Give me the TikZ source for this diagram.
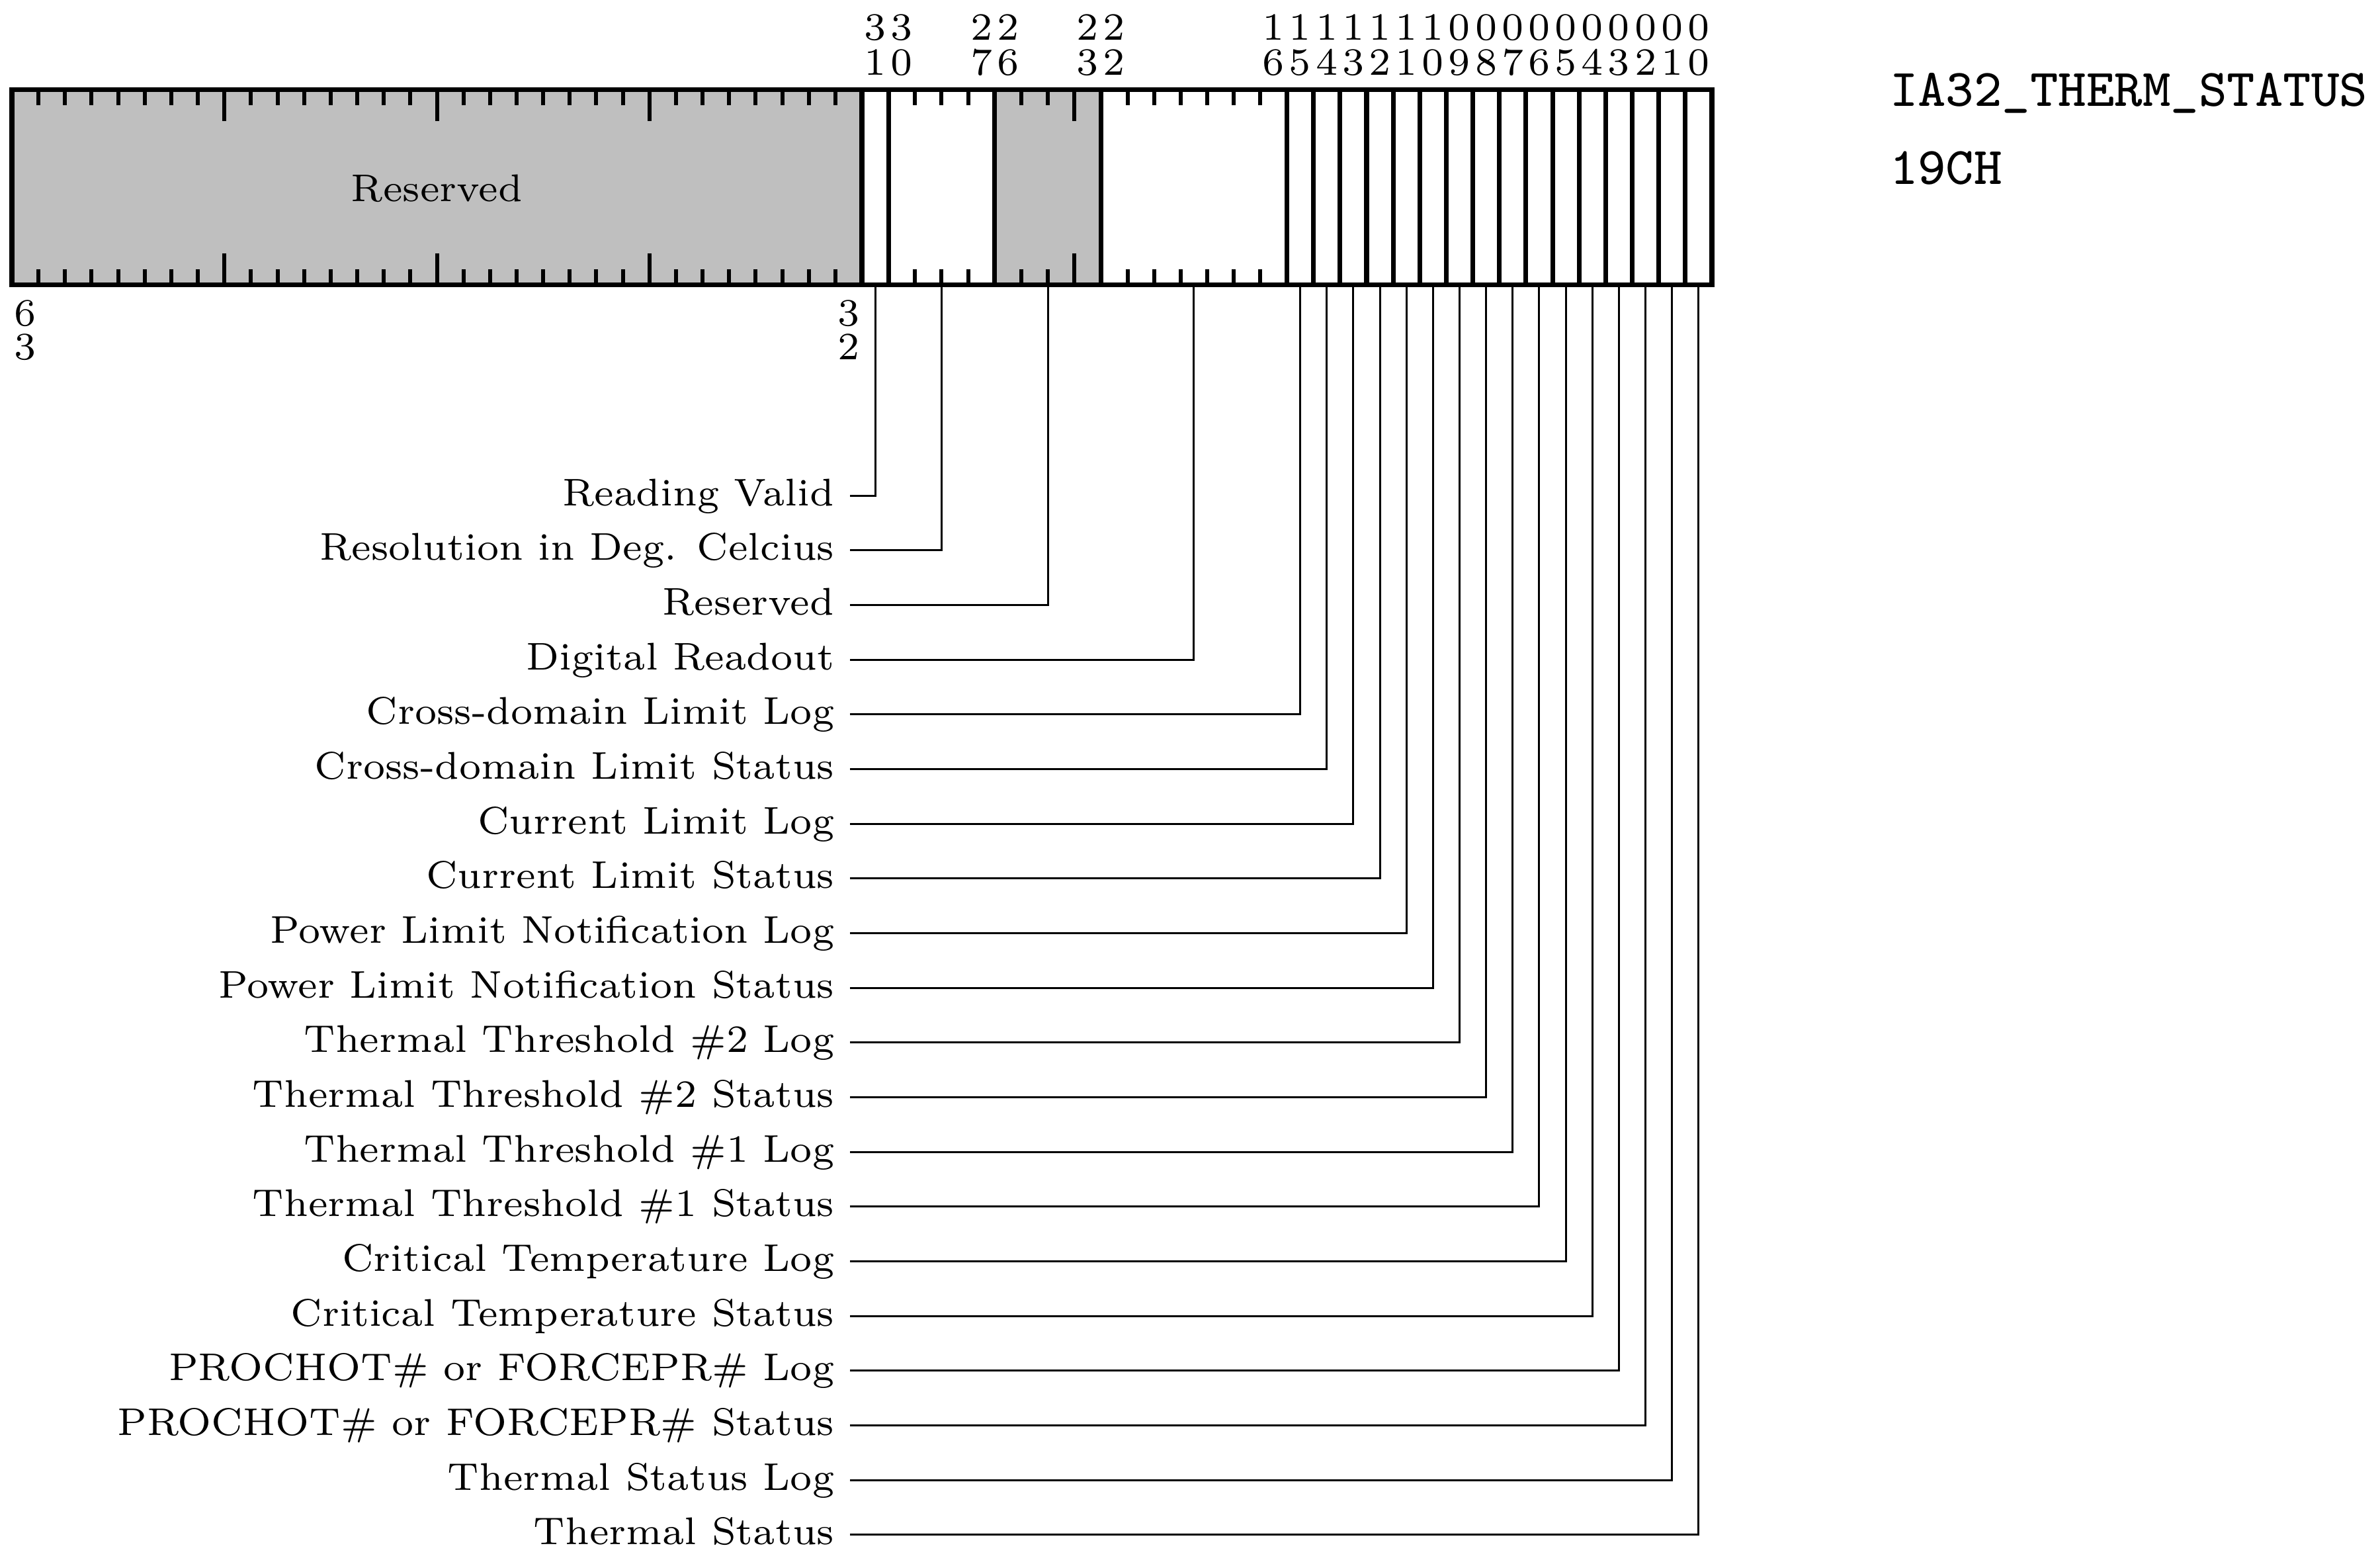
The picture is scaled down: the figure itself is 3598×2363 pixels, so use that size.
\documentclass[tikz,border=0pt]{standalone}
\begin{document}
\begin{tikzpicture}[x=0.12pt,y=-0.12pt]
\tikzset{
  thickln/.style={line width=0.85pt},
  tickln/.style={line width=0.72pt},
  conn/.style={line width=0.36pt},
  lbl/.style={anchor=base east, inner sep=0pt, font=\fontsize{7}{8}\selectfont},
  bitnum/.style={anchor=base, inner sep=0pt, font=\fontsize{7}{8}\selectfont},
  regtitle/.style={anchor=base west, inner sep=0pt, scale=1.2, transform shape, font=\fontsize{8}{9}\selectfont\ttfamily},
  resv/.style={fill=black!25},
}
\def\W{40.156}
\def\Top{135.3}
\def\Bot{430.5}
\useasboundingbox (0,0) rectangle (3598,2363);
% gray fills
\fill[resv] (18,\Top) rectangle ({18+32*\W},\Bot);
\fill[resv] ({18+37*\W},\Top) rectangle ({18+41*\W},\Bot);
% ticks
\foreach \k in {33,...,63} {
  \pgfmathsetmacro\len{mod(\k,8)==0 ? 48 : 24}
  \draw[tickln] ({18+(64-\k)*\W},\Top) -- ({18+(64-\k)*\W},{\Top+\len});
  \draw[tickln] ({18+(64-\k)*\W},\Bot) -- ({18+(64-\k)*\W},{\Bot-\len});
}
\foreach \k in {28,29,30,24,25,26,17,18,19,20,21,22} {
  \pgfmathsetmacro\len{mod(\k,8)==0 ? 48 : 24}
  \draw[tickln] ({18+(64-\k)*\W},\Top) -- ({18+(64-\k)*\W},{\Top+\len});
  \draw[tickln] ({18+(64-\k)*\W},\Bot) -- ({18+(64-\k)*\W},{\Bot-\len});
}
% field dividers
\foreach \k in {32,31,27,23,16,15,...,1} {
  \draw[thickln] ({18+(64-\k)*\W},\Top) -- ({18+(64-\k)*\W},\Bot);
}
\draw[thickln] (18,\Top) rectangle (2588,\Bot);
% Reserved label in box
\node[bitnum] (resv) at (660.5,304) {Reserved};
% bit numbers on top
\foreach \b in {31,30,27,26,23,22,16,15,...,0} {
  \pgfmathtruncatemacro\tens{\b/10}
  \pgfmathtruncatemacro\units{mod(\b,10)}
  \node[bitnum] (t\b) at ({18+(63.5-\b)*\W},60) {\tens};
  \node[bitnum] (u\b) at ({18+(63.5-\b)*\W},113) {\units};
}
% bit numbers below
\node[bitnum] (b63a) at ({18+0.5*\W},492) {6};
\node[bitnum] (b63b) at ({18+0.5*\W},543) {3};
\node[bitnum] (b32a) at ({18+31.5*\W},492) {3};
\node[bitnum] (b32b) at ({18+31.5*\W},543) {2};
% field attach points
\coordinate (f31) at ({18+32.5*\W},\Bot);
\coordinate (f30) at ({18+35*\W},\Bot);
\coordinate (f26) at ({18+39*\W},\Bot);
\coordinate (f22) at ({18+44.5*\W},\Bot);
\foreach \b in {0,...,15} {
  \coordinate (f\b) at ({18+(63.5-\b)*\W},\Bot);
}
% labels and connectors
\foreach \i/\t/\f in {
  0/Reading Valid/f31,
  1/Resolution in Deg. Celcius/f30,
  2/Reserved/f26,
  3/Digital Readout/f22,
  4/Cross-domain Limit Log/f15,
  5/Cross-domain Limit Status/f14,
  6/Current Limit Log/f13,
  7/Current Limit Status/f12,
  8/Power Limit Notification Log/f11,
  9/Power Limit Notification Status/f10,
  10/Thermal Threshold \#2 Log/f9,
  11/Thermal Threshold \#2 Status/f8,
  12/Thermal Threshold \#1 Log/f7,
  13/Thermal Threshold \#1 Status/f6,
  14/Critical Temperature Log/f5,
  15/Critical Temperature Status/f4,
  16/PROCHOT\# or FORCEPR\# Log/f3,
  17/PROCHOT\# or FORCEPR\# Status/f2,
  18/Thermal Status Log/f1,
  19/Thermal Status/f0} {
  \node[lbl] (l\i) at (1263,{749+82.68*\i+15}) {\t};
  \coordinate (s\i) at (1285,{749+82.68*\i});
  \draw[conn] (s\i) -| (\f);
}
% title
\node[regtitle] (name) at (2855,160) {IA32\_THERM\_STATUS};
\node[regtitle] (addr) at (2855,278) {19CH};
\end{tikzpicture}
\end{document}
